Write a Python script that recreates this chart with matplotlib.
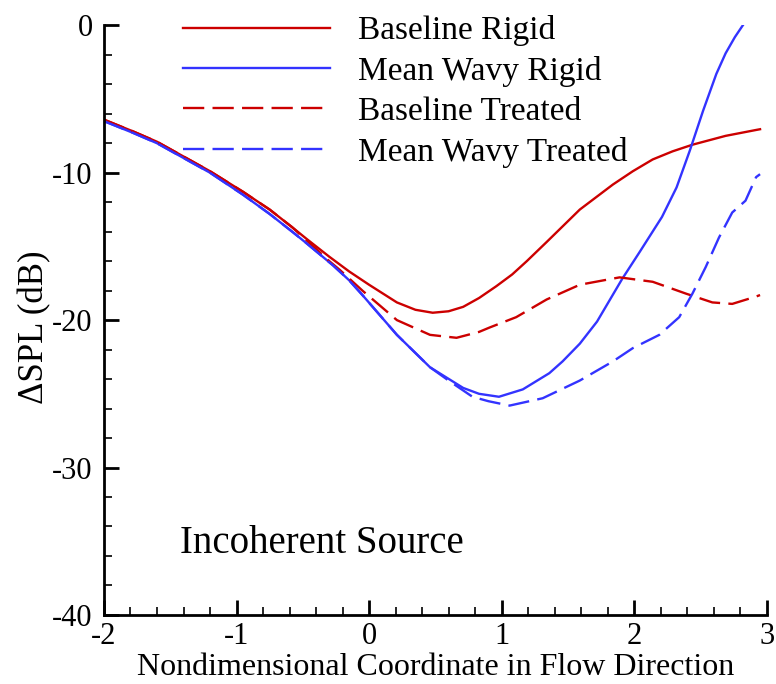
import matplotlib.pyplot as plt

plt.rcParams['font.family'] = ['Liberation Serif', 'DejaVu Serif']
plt.rcParams['axes.unicode_minus'] = False

# Baseline Rigid (red solid)
x_br = [-2.0, -1.78, -1.6, -1.4, -1.2, -0.95, -0.75, -0.58, -0.47, -0.3, -0.15, 0.0,
        0.21, 0.35, 0.48, 0.6, 0.71, 0.83, 0.96, 1.08, 1.19, 1.34, 1.59, 1.84, 1.99, 2.14,
        2.29, 2.44, 2.69, 2.92, 2.95]
y_br = [-6.4, -7.2, -7.9, -8.9, -9.9, -11.3, -12.5, -13.7, -14.5, -15.7, -16.7, -17.6,
        -18.8, -19.3, -19.5, -19.4, -19.1, -18.5, -17.7, -16.9, -16.0, -14.7, -12.5, -10.8, -9.9, -9.1,
        -8.55, -8.1, -7.5, -7.1, -7.05]

# Mean Wavy Rigid (blue solid)
x_wr = [-2.0, -1.78, -1.6, -1.4, -1.2, -0.95, -0.75, -0.58, -0.47, -0.27, -0.15, -0.05,
        0.21, 0.46, 0.71, 0.83, 0.98, 1.16, 1.36, 1.46, 1.59, 1.72, 1.91, 2.04, 2.21, 2.32, 2.42,
        2.52, 2.62, 2.69, 2.76, 2.82]
y_wr = [-6.5, -7.3, -8.0, -9.0, -10.0, -11.5, -12.8, -14.0, -14.8, -16.3, -17.3, -18.3,
        -21.0, -23.2, -24.6, -25.0, -25.2, -24.7, -23.6, -22.8, -21.6, -20.1, -17.2, -15.4, -13.0, -11.0, -8.5,
        -5.8, -3.3, -1.9, -0.8, 0.0]

# Baseline Treated (red dashed)
x_bt = [-2.0, -1.78, -1.6, -1.4, -1.2, -0.95, -0.75, -0.58, -0.47, -0.3, -0.22, -0.05,
        0.21, 0.46, 0.66, 0.83, 0.91, 1.11, 1.34, 1.59, 1.89, 2.14, 2.39, 2.59, 2.74, 2.92, 2.95]
y_bt = [-6.4, -7.2, -7.9, -8.9, -9.9, -11.3, -12.5, -13.7, -14.6, -16.0, -16.6, -18.0,
        -20.0, -21.0, -21.2, -20.8, -20.5, -19.8, -18.6, -17.6, -17.1, -17.4, -18.2, -18.8, -18.9, -18.4, -18.3]

# Mean Wavy Treated (blue dashed)
x_wt = [-2.0, -1.78, -1.6, -1.4, -1.2, -0.95, -0.75, -0.58, -0.47, -0.27, -0.15, -0.05,
        0.21, 0.46, 0.6, 0.78, 0.9, 1.06, 1.31, 1.59, 1.84, 1.99, 2.19, 2.34, 2.44, 2.54,
        2.64, 2.74, 2.84, 2.92, 2.95]
y_wt = [-6.5, -7.3, -8.0, -9.0, -10.0, -11.5, -12.8, -14.0, -14.8, -16.3, -17.3, -18.3,
        -21.0, -23.2, -24.1, -25.2, -25.5, -25.8, -25.3, -24.1, -22.8, -21.9, -21.0, -19.8, -18.2, -16.4,
        -14.4, -12.7, -11.9, -10.3, -10.1]

red = '#CC0000'
blue = '#3333FF'

fig = plt.figure(figsize=(7.76, 6.84), dpi=100)
ax = fig.add_axes([0.134, 0.101, 0.854, 0.862])

ax.plot(x_br, y_br, color=red, lw=1.7, label='Baseline Rigid')
ax.plot(x_wr, y_wr, color=blue, lw=1.7, label='Mean Wavy Rigid')
ax.plot(x_bt, y_bt, color=red, lw=1.7, dashes=(9, 3.5), label='Baseline Treated')
ax.plot(x_wt, y_wt, color=blue, lw=1.7, dashes=(9, 3.5), label='Mean Wavy Treated')

ax.set_xlim(-2, 3)
ax.set_ylim(-40, 0)
ax.set_xticks([-2, -1, 0, 1, 2, 3])
ax.set_xticks([v / 5 for v in range(-10, 16)], minor=True)
ax.set_yticks([-40, -30, -20, -10, 0])
ax.set_yticks(list(range(-40, 1, 2)), minor=True)

ax.spines['top'].set_visible(False)
ax.spines['right'].set_visible(False)
ax.spines['left'].set_linewidth(2.0)
ax.spines['bottom'].set_linewidth(2.0)
ax.tick_params(which='major', direction='in', length=11, width=2.0, labelsize=22)
ax.tick_params(which='minor', direction='in', length=6, width=1.2)
ax.tick_params(axis='y', which='major', pad=8)
ax.tick_params(axis='x', which='major', pad=5)

ax.set_xlabel('Nondimensional Coordinate in Flow Direction', fontsize=23)
ax.xaxis.set_label_coords(0.5, -0.064)
ax.set_ylabel('ΔSPL (dB)', fontsize=25)
ax.yaxis.set_label_coords(-0.080, 0.488)

ax.text(-1.427, -35.8, 'Incoherent Source', fontsize=28, va='baseline')

ax.legend(loc='upper left', bbox_to_anchor=(0.119, 1.017), frameon=False, fontsize=24,
          handlelength=4.4, handletextpad=0.84, labelspacing=0.29,
          borderpad=0, borderaxespad=0)

fig.savefig('out.png', dpi=100)
